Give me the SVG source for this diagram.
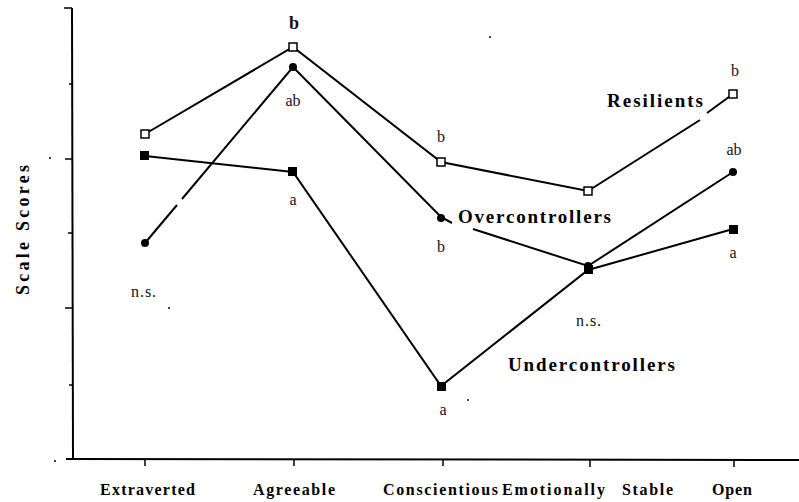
<svg xmlns="http://www.w3.org/2000/svg" width="799" height="502" viewBox="0 0 799 502">
<style>
.ax{stroke:#000;stroke-width:2;fill:none}
.tk{stroke:#000;stroke-width:1.5}
.ln{stroke:#000;stroke-width:2;fill:none}
.lb{font-family:"Liberation Serif","Times New Roman",serif;font-size:16px;fill:#111;text-anchor:middle}
.bd{font-family:"Liberation Serif","Times New Roman",serif;font-size:19px;font-weight:bold;fill:#000}
.xl{font-family:"Liberation Serif","Times New Roman",serif;font-size:16px;font-weight:bold;fill:#000}
.os{fill:#fff;stroke:#000;stroke-width:1.5}
.fs{fill:#000}
</style>
<rect width="799" height="502" fill="#fff"/>
<g id="axes">
<line class="ax" x1="72" y1="8" x2="73" y2="459"/>
<line class="ax" x1="66" y1="459" x2="799" y2="460"/>
<line class="tk" x1="64" y1="8" x2="72" y2="8"/>
<line class="tk" x1="69" y1="84" x2="72" y2="84"/>
<line class="tk" x1="65" y1="159" x2="72" y2="159"/>
<line class="tk" x1="68" y1="233" x2="72" y2="233"/>
<line class="tk" x1="65" y1="308" x2="72" y2="308"/>
<line class="tk" x1="69" y1="385" x2="72" y2="385"/>
<line class="tk" x1="145" y1="459" x2="145" y2="466"/>
<line class="tk" x1="294" y1="459" x2="294" y2="466"/>
<line class="tk" x1="443" y1="459" x2="443" y2="466"/>
<line class="tk" x1="590" y1="460" x2="590" y2="467"/>
<line class="tk" x1="734" y1="460" x2="734" y2="467"/>
<text class="bd" transform="translate(29,295) rotate(-90)" style="font-size:18px" textLength="130" lengthAdjust="spacing">Scale Scores</text>
</g>
<g id="connectors">
<polyline class="ln" points="145,134 293,47 441,162 588,191 700,120"/>
<line class="ln" x1="707" y1="113" x2="733" y2="94"/>
<polyline class="ln" points="145,243 177,205"/>
<polyline class="ln" points="182,199 293,67 441,217 452,223"/>
<polyline class="ln" points="473,229 588,266 733,172"/>
<polyline class="ln" points="145,156 293,172 441,386 588,270 733,229"/>
</g>
<g id="resilients">
<rect class="os" x="141" y="130" width="8" height="8"/>
<rect class="os" x="289" y="43" width="8" height="8"/>
<rect class="os" x="437" y="158" width="8" height="8"/>
<rect class="os" x="584" y="187" width="8" height="8"/>
<rect class="os" x="729" y="90" width="8" height="8"/>
<text class="bd" x="607" y="107" textLength="96" lengthAdjust="spacing">Resilients</text>
</g>
<g id="overcontrollers">
<circle class="fs" cx="145" cy="243" r="4"/>
<circle class="fs" cx="293" cy="67" r="4"/>
<circle class="fs" cx="441" cy="218" r="4"/>
<circle class="fs" cx="588" cy="266" r="4"/>
<circle class="fs" cx="733" cy="172" r="4"/>
<text class="bd" x="458" y="223" textLength="153" lengthAdjust="spacing">Overcontrollers</text>
</g>
<g id="undercontrollers">
<rect class="fs" x="140" y="151" width="9" height="9"/>
<rect class="fs" x="288" y="167" width="9" height="9"/>
<rect class="fs" x="437" y="382" width="9" height="9"/>
<rect class="fs" x="584" y="265" width="9" height="9"/>
<rect class="fs" x="729" y="225" width="9" height="9"/>
<text class="bd" x="508" y="371" textLength="167" lengthAdjust="spacing">Undercontrollers</text>
</g>
<g id="significance">
<text class="lb" x="294" y="29" style="font-weight:bold;font-size:18px">b</text>
<text class="lb" x="293" y="106">ab</text>
<text class="lb" x="293" y="205">a</text>
<text class="lb" x="441" y="142">b</text>
<text class="lb" x="441" y="252">b</text>
<text class="lb" x="443" y="415">a</text>
<text class="lb" x="735" y="76">b</text>
<text class="lb" x="734" y="155">ab</text>
<text class="lb" x="733" y="258">a</text>
<text class="lb" x="144" y="297" style="letter-spacing:1px">n.s.</text>
<text class="lb" x="589" y="326" style="letter-spacing:1px">n.s.</text>
</g>
<g id="xlabels">
<text class="xl" x="100" y="495" textLength="95" lengthAdjust="spacing">Extraverted</text>
<text class="xl" x="253" y="495" textLength="82" lengthAdjust="spacing">Agreeable</text>
<text class="xl" x="383" y="495" textLength="115" lengthAdjust="spacing">Conscientious</text>
<text class="xl" x="502" y="495" textLength="103" lengthAdjust="spacing">Emotionally</text>
<text class="xl" x="622" y="495" textLength="51" lengthAdjust="spacing">Stable</text>
<text class="xl" x="712" y="495" textLength="40" lengthAdjust="spacing">Open</text>
</g>
<g id="specks" fill="#000">
<circle cx="490" cy="37" r="1"/>
<circle cx="50" cy="158" r="1"/>
<circle cx="169" cy="308" r="1"/>
<circle cx="468" cy="400" r="1"/>
<circle cx="55" cy="461" r="1"/>
</g>
</svg>
